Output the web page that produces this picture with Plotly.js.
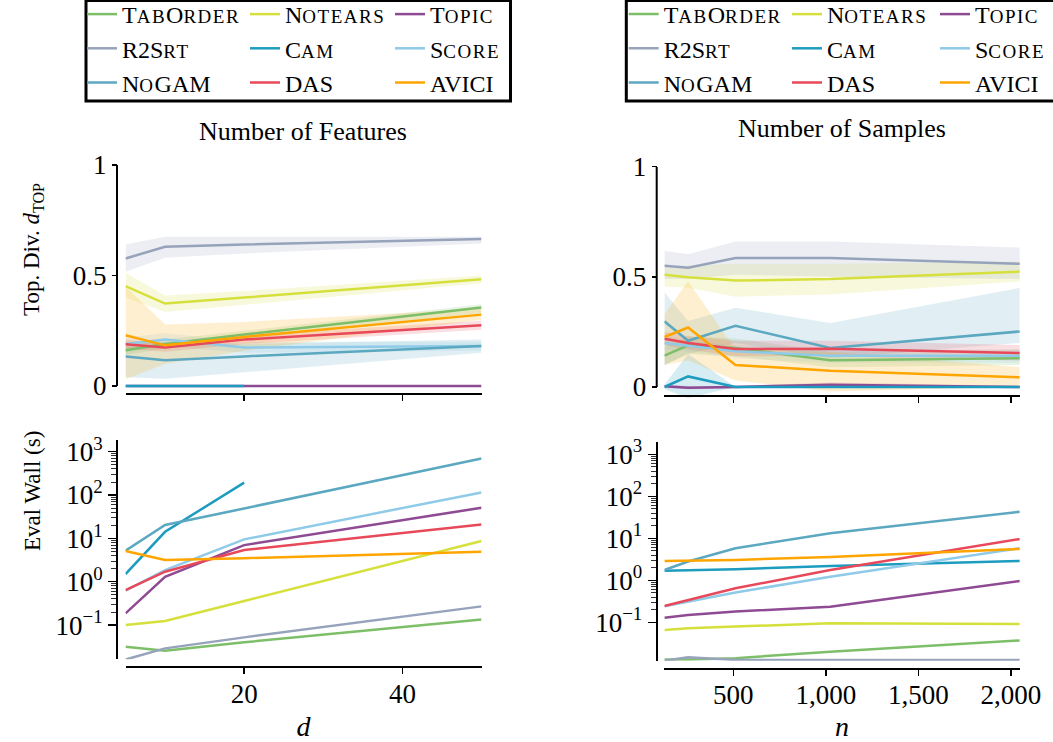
<!DOCTYPE html>
<html>
<head>
<meta charset="utf-8">
<script src="https://cdn.plot.ly/plotly-3.0.1.min.js"></script>
<style>html,body{margin:0;padding:0;background:#fff;}#chart{width:1053px;height:742px;}</style>
</head>
<body>
<div id="chart"></div>
<script>
// ---------------- data ----------------
const methods = ['TabOrder','Notears','Topic','R2Srt','Cam','Score','NoGAM','DAS','AVICI'];
const SC = 'style="font-size:19px;letter-spacing:1.5px"';
const legendLabels = [
  'T<span '+SC+'>AB</span>O<span '+SC+'>RDER</span>',
  'N<span '+SC+'>OTEARS</span>',
  'T<span '+SC+'>OPIC</span>',
  'R2S<span '+SC+'>RT</span>',
  'C<span '+SC+'>AM</span>',
  'S<span '+SC+'>CORE</span>',
  'N<span '+SC+'>O</span>GAM',
  'DAS',
  'AVICI'
];
const colors = ['#7cbf68','#d6e03c','#8e4a93','#97a3bb','#1d9cc0','#8fcbe8','#5ba8c0','#e8495a','#ffa500'];

// Number of features d
const featD = [5, 10, 20, 50];
// Number of samples n
const sampN = [128, 256, 512, 1024, 2048];

// Top-left: topological divergence vs d (mean, lower, upper), order = methods
const topFeatMean = [
  [0.162, 0.190, 0.233, 0.355],
  [0.452, 0.373, 0.400, 0.483],
  [0.000, 0.000, 0.000, 0.000],
  [0.577, 0.630, 0.640, 0.665],
  [0.000, 0.000, 0.000, null],
  [0.190, 0.210, 0.174, 0.181],
  [0.134, 0.116, 0.134, 0.181],
  [0.189, 0.174, 0.210, 0.275],
  [0.230, 0.184, 0.222, 0.323]
];
const topFeatLo = [
  [0.140, 0.170, 0.210, 0.330],
  [0.400, 0.335, 0.370, 0.465],
  [0.000, 0.000, 0.000, 0.000],
  [0.517, 0.580, 0.600, 0.645],
  [0.000, 0.000, 0.000, null],
  [0.150, 0.180, 0.150, 0.160],
  [0.040, 0.033, 0.060, 0.150],
  [0.170, 0.155, 0.190, 0.255],
  [0.030, 0.100, 0.160, 0.300]
];
const topFeatHi = [
  [0.180, 0.210, 0.250, 0.370],
  [0.513, 0.410, 0.430, 0.500],
  [0.000, 0.000, 0.000, 0.000],
  [0.640, 0.675, 0.675, 0.675],
  [0.000, 0.000, 0.000, null],
  [0.220, 0.240, 0.200, 0.200],
  [0.200, 0.200, 0.190, 0.210],
  [0.210, 0.195, 0.230, 0.295],
  [0.450, 0.278, 0.290, 0.350]
];

// Top-right: topological divergence vs n
const topSampMean = [
  [0.142, 0.189, 0.177, 0.121, 0.131],
  [0.509, 0.498, 0.483, 0.490, 0.524],
  [0.003, -0.003, 0.000, 0.010, 0.000],
  [0.550, 0.541, 0.585, 0.585, 0.559],
  [0.000, 0.048, 0.000, 0.000, 0.000],
  [0.200, 0.187, 0.162, 0.142, 0.142],
  [0.298, 0.210, 0.278, 0.177, 0.252],
  [0.219, 0.200, 0.172, 0.174, 0.154],
  [0.227, 0.270, 0.100, 0.074, 0.044]
];
const topSampLo = [
  [0.100, 0.150, 0.140, 0.090, 0.100],
  [0.456, 0.450, 0.410, 0.420, 0.480],
  [-0.005, -0.010, -0.005, 0.000, -0.005],
  [0.490, 0.490, 0.510, 0.500, 0.490],
  [-0.010, -0.050, 0.000, 0.000, 0.000],
  [0.170, 0.160, 0.130, 0.110, 0.110],
  [0.100, 0.150, 0.200, 0.130, 0.200],
  [0.190, 0.170, 0.140, 0.140, 0.120],
  [0.100, 0.120, 0.030, -0.020, 0.000]
];
const topSampHi = [
  [0.180, 0.230, 0.220, 0.160, 0.170],
  [0.550, 0.550, 0.560, 0.560, 0.570],
  [0.010, 0.005, 0.005, 0.020, 0.005],
  [0.618, 0.603, 0.660, 0.660, 0.633],
  [0.010, 0.150, 0.000, 0.000, 0.000],
  [0.230, 0.210, 0.190, 0.170, 0.170],
  [0.430, 0.300, 0.360, 0.290, 0.450],
  [0.250, 0.230, 0.210, 0.210, 0.190],
  [0.330, 0.480, 0.170, 0.160, 0.090]
];

// Bottom-left: eval wall time (s) vs d
const wallFeat = [
  [0.0316, 0.0255, 0.040, 0.135],
  [0.100, 0.124, 0.360, 8.7],
  [0.186, 1.30, 7.0, 51],
  [0.016, 0.029, 0.052, 0.27],
  [1.5, 14.2, 193, null],
  [0.62, 1.86, 9.5, 115],
  [5.2, 20.4, 49, 700],
  [0.64, 1.70, 5.4, 21],
  [5.1, 3.16, 3.5, 4.9]
];
// Bottom-right: eval wall time (s) vs n
const wallSamp = [
  [0.013, 0.013, 0.014, 0.020, 0.037],
  [0.066, 0.072, 0.079, 0.095, 0.091],
  [0.129, 0.150, 0.180, 0.236, 0.96],
  [0.0122, 0.0147, 0.0127, 0.0127, 0.0127],
  [1.70, 1.76, 1.83, 2.2, 2.9],
  [0.24, 0.31, 0.51, 1.22, 5.8],
  [1.76, 2.8, 5.8, 13.2, 43],
  [0.245, 0.34, 0.645, 1.76, 9.6],
  [2.9, 2.95, 3.05, 3.6, 5.6]
];

const featTicks = [20, 40];
const sampTicks = [500, 1000, 1500, 2000];
const sampTickText = ['500', '1,000', '1,500', '2,000'];
const topTicks = [0, 0.5, 1];
const topTickText = ['0', '0.5', '1'];
const logTicks = [0.1, 1, 10, 100, 1000];
const logTickText = ['10<sup>\u22121</sup>', '10<sup>0</sup>', '10<sup>1</sup>', '10<sup>2</sup>', '10<sup>3</sup>'];
const logMinor = [0.2,0.3,0.4,0.5,0.6,0.7,0.8,0.9,2,3,4,5,6,7,8,9,20,30,40,50,60,70,80,90,200,300,400,500,600,700,800,900];

// ---------------- build ----------------
const W = 1053, H = 742;
const px = v => v / W;
const py = v => 1 - v / H;
const FONT = 'Liberation Serif, Times New Roman, serif';

function rgba(hex, a) {
  const r = parseInt(hex.slice(1,3),16), g = parseInt(hex.slice(3,5),16), b = parseInt(hex.slice(5,7),16);
  return 'rgba(' + r + ',' + g + ',' + b + ',' + a + ')';
}

const traces = [];
function addBands(xs, lo, hi, xa, ya) {
  methods.forEach((m, i) => {
    const xx = [], l = [], h = [];
    xs.forEach((x, k) => { if (lo[i][k] !== null && hi[i][k] !== null) { xx.push(x); l.push(lo[i][k]); h.push(hi[i][k]); } });
    const spread = h.some((v, k) => v - l[k] > 1e-9);
    if (!spread) return;
    traces.push({
      type: 'scatter', mode: 'lines', x: xx.concat(xx.slice().reverse()),
      y: h.concat(l.slice().reverse()), fill: 'toself', fillcolor: rgba(colors[i], 0.18),
      line: { width: 0 }, hoverinfo: 'skip', showlegend: false, xaxis: xa, yaxis: ya
    });
  });
}
function addLines(xs, ys, xa, ya, legendSet) {
  methods.forEach((m, i) => {
    const t = {
      type: 'scatter', mode: 'lines', x: xs, y: ys[i], name: legendLabels[i],
      line: { color: colors[i], width: 2.5 }, connectgaps: false,
      xaxis: xa, yaxis: ya, showlegend: !!legendSet
    };
    if (legendSet) t.legend = legendSet[i % 3];
    traces.push(t);
  });
}

addBands(featD, topFeatLo, topFeatHi, 'x', 'y');
addBands(sampN, topSampLo, topSampHi, 'x2', 'y2');
addLines(featD, topFeatMean, 'x', 'y', ['legend', 'legend2', 'legend3']);
addLines(sampN, topSampMean, 'x2', 'y2', ['legend4', 'legend5', 'legend6']);
addLines(featD, wallFeat, 'x3', 'y3', null);
addLines(sampN, wallSamp, 'x4', 'y4', null);

const tickFont = { family: FONT, size: 27, color: '#000' };
const baseAxis = { showgrid: false, zeroline: false, ticks: 'outside', tickcolor: '#000', tickwidth: 1.5, tickfont: tickFont, fixedrange: true };

const leftX = [125.5, 481.5], rightX = [664.4, 1019.8];

function xAx(dom, range, pos, tv, tt, showLabels, title) {
  const ax = Object.assign({}, baseAxis, {
    domain: [px(dom[0]), px(dom[1])], range: range, anchor: 'free', position: py(pos),
    showline: true, linecolor: '#000', linewidth: 2,
    tickmode: 'array', tickvals: tv, ticktext: tt, ticklen: 6, showticklabels: showLabels,
    ticklabelstandoff: -4
  });
  if (title) ax.title = { text: title, font: { family: FONT, size: 28, color: '#000' }, standoff: 12 };
  return ax;
}
function yLin(dom, pos) {
  return Object.assign({}, baseAxis, {
    domain: [py(dom[1]), py(dom[0])], range: [-0.05, 1.0], anchor: 'free', position: px(pos),
    showline: false, tickmode: 'array', tickvals: topTicks, ticktext: topTickText, ticklen: 5
  });
}
function yLog(dom, range, pos) {
  return Object.assign({}, baseAxis, {
    type: 'log', domain: [py(dom[1]), py(dom[0])], range: range, anchor: 'free', position: px(pos),
    showline: true, linecolor: '#000', linewidth: 2,
    tickmode: 'array', tickvals: logTicks, ticktext: logTickText, ticklen: 8,
    minor: { tickmode: 'array', tickvals: logMinor, ticks: 'outside', ticklen: 5, tickwidth: 1, tickcolor: '#333', showgrid: false }
  });
}

function legendAt(xpx) {
  return {
    x: px(xpx), xanchor: 'left', y: 1 + 8 / H, yanchor: 'top', orientation: 'v',
    bgcolor: 'rgba(0,0,0,0)', borderwidth: 0, itemwidth: 30, tracegroupgap: 0,
    font: { family: FONT, size: 24, color: '#000' }, traceorder: 'normal'
  };
}

const layout = {
  width: W, height: H,
  margin: { l: 0, r: 0, t: 0, b: 0, autoexpand: false },
  paper_bgcolor: '#fff', plot_bgcolor: 'rgba(0,0,0,0)',
  font: { family: FONT, color: '#000' },
  xaxis: xAx(leftX, [5, 50], 394, featTicks, featTicks.map(String), false, null),
  yaxis: yLin([165, 397.05], 117),
  xaxis2: xAx(rightX, [128, 2048], 396, sampTicks, sampTickText, false, null),
  yaxis2: yLin([166.7, 398.0], 656.7),
  xaxis3: xAx(leftX, [5, 50], 667.3, featTicks, featTicks.map(String), true, '<i>d</i>'),
  yaxis3: yLog([440, 659.3], [-1.79, 3.27], 117),
  xaxis4: xAx(rightX, [128, 2048], 669, sampTicks, sampTickText, true, '<i>n</i>'),
  yaxis4: yLog([441.7, 660.7], [-1.914, 3.30], 656.7),
  legend: legendAt(82), legend2: legendAt(245), legend3: legendAt(390),
  legend4: legendAt(623.7), legend5: legendAt(787), legend6: legendAt(935),
  shapes: [
    { type: 'line', xref: 'paper', yref: 'y', x0: px(117), x1: px(117), y0: 0, y1: 1, line: { color: '#000', width: 2 } },
    { type: 'line', xref: 'paper', yref: 'y2', x0: px(656.7), x1: px(656.7), y0: 0, y1: 1, line: { color: '#000', width: 2 } },
    { type: 'rect', xref: 'paper', yref: 'paper', x0: px(86), x1: px(510.5), y0: py(101), y1: py(0.5), line: { color: '#000', width: 3 }, fillcolor: 'rgba(0,0,0,0)' },
    { type: 'rect', xref: 'paper', yref: 'paper', x0: px(626.3), x1: px(1058), y0: py(101), y1: py(0.5), line: { color: '#000', width: 3 }, fillcolor: 'rgba(0,0,0,0)' }
  ],
  annotations: [
    { text: 'Number of Features', xref: 'paper', yref: 'paper', x: px(303), y: py(131), xanchor: 'center', yanchor: 'middle', showarrow: false, font: { family: FONT, size: 26, color: '#000' } },
    { text: 'Number of Samples', xref: 'paper', yref: 'paper', x: px(842), y: py(128), xanchor: 'center', yanchor: 'middle', showarrow: false, font: { family: FONT, size: 26, color: '#000' } },
    { text: 'Top. Div. <i>d</i><sub>TOP</sub>', xref: 'paper', yref: 'paper', x: px(33), y: py(250), xanchor: 'center', yanchor: 'middle', textangle: -90, showarrow: false, font: { family: FONT, size: 23, color: '#000' } },
    { text: 'Eval Wall (s)', xref: 'paper', yref: 'paper', x: px(32), y: py(491), xanchor: 'center', yanchor: 'middle', textangle: -90, showarrow: false, font: { family: FONT, size: 23, color: '#000' } }
  ]
};

Plotly.newPlot('chart', traces, layout, { displayModeBar: false, staticPlot: true });
</script>
</body>
</html>
